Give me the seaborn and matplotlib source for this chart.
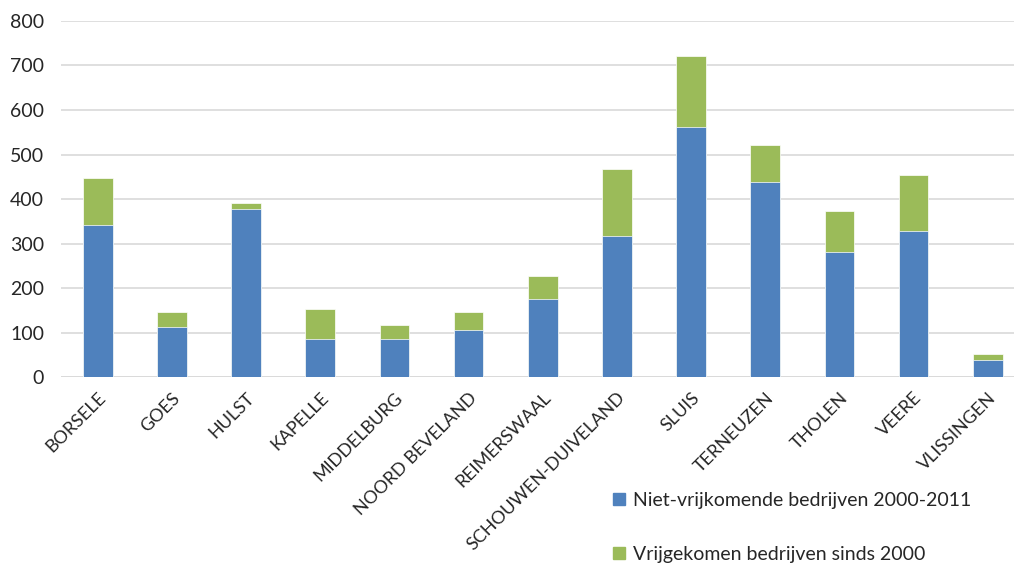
import pandas as pd
import matplotlib
matplotlib.use("Agg")
import matplotlib.pyplot as plt
import seaborn as sns
from matplotlib.patches import Patch

gemeenten = ["BORSELE", "GOES", "HULST", "KAPELLE", "MIDDELBURG", "NOORD BEVELAND",
             "REIMERSWAAL", "SCHOUWEN-DUIVELAND", "SLUIS", "TERNEUZEN", "THOLEN",
             "VEERE", "VLISSINGEN"]
niet_vrij = [342, 112, 378, 86, 86, 106, 175, 316, 561, 438, 281, 329, 39]
vrijgekomen = [105, 35, 12, 68, 31, 40, 53, 151, 161, 83, 91, 124, 12]

lbl_blue = "Niet-vrijkomende bedrijven 2000-2011"
lbl_green = "Vrijgekomen bedrijven sinds 2000"
blue = "#4f81bd"
green = "#9bbb59"

df = pd.DataFrame({"gemeente": gemeenten, "niet": niet_vrij, "vrij": vrijgekomen})
df["totaal"] = df["niet"] + df["vrij"]

sns.set_style("white")
plt.rcParams["font.family"] = ["Lato", "DejaVu Sans"]

fig = plt.figure(figsize=(10.14, 5.67), dpi=100)
ax = fig.add_axes([0.0598, 0.335, 0.9402, 0.628])

sns.barplot(data=df, x="gemeente", y="totaal", color=green, width=0.4, saturation=1,
            edgecolor="white", linewidth=0.5, ax=ax, zorder=3)
sns.barplot(data=df, x="gemeente", y="niet", color=blue, width=0.4, saturation=1,
            edgecolor="white", linewidth=0.5, ax=ax, zorder=3)

ax.set_ylim(0, 800)
ax.set_xlim(-0.5, 12.355)
ax.set_yticks(range(0, 801, 100))
ax.yaxis.grid(True, color="#d9d9d9", linewidth=1.2, zorder=0)
ax.set_axisbelow(True)
for s in ax.spines.values():
    s.set_visible(False)
ax.axhline(0, color="#d9d9d9", linewidth=1.2, zorder=2)
ax.set_xlabel("")
ax.set_ylabel("")
ax.tick_params(axis="y", labelsize=14, colors="#262626", length=0, pad=12)
ax.tick_params(axis="x", labelsize=13, colors="#262626", length=0, pad=9)
plt.setp(ax.get_xticklabels(), rotation=45, ha="right", rotation_mode="anchor")

handles = [Patch(color=blue, label=lbl_blue), Patch(color=green, label=lbl_green)]
fig.legend(handles=handles, loc="upper left", bbox_to_anchor=(0.605, 0.132),
           frameon=False, fontsize=14, labelspacing=1.9, handlelength=0.6,
           handleheight=0.6, handletextpad=0.4, borderaxespad=0, borderpad=0)

fig.savefig("out.png", dpi=100)
